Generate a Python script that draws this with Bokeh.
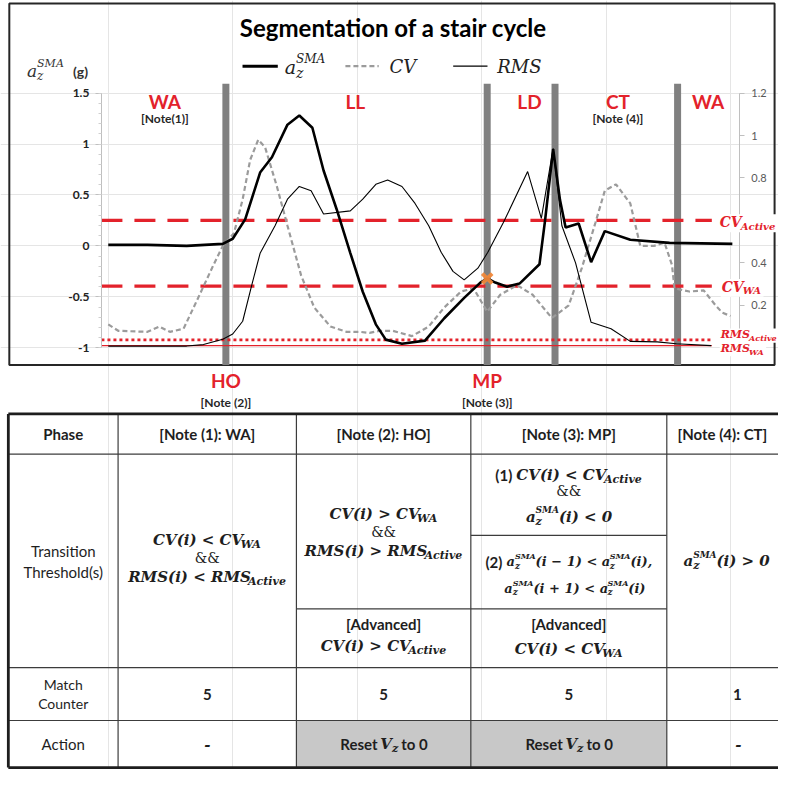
from bokeh.plotting import figure
from bokeh.models import Range1d, LinearAxis, ColumnDataSource, FixedTicker
from bokeh.core.properties import value
from bokeh.embed import file_html
from bokeh.resources import INLINE

# ---------------- data ----------------
AZ_T = [0.0, 6.3, 12.6, 18.4, 20.0, 22.0, 24.4, 26.3, 28.8, 30.7, 32.8, 34.6, 36.7, 38.9, 40.9,
        43.0, 44.6, 47.2, 50.9, 54.0, 57.2, 59.8, 60.9, 62.2, 64.1, 66.1, 69.3, 70.2, 71.5, 72.6,
        73.5, 75.6, 77.6, 79.8, 83.9, 90.2, 100.3]
AZ = [0.01, 0.01, 0.00, 0.02, 0.07, 0.26, 0.72, 0.87, 1.19, 1.28, 1.16, 0.74, 0.36, -0.07, -0.45,
      -0.77, -0.92, -0.96, -0.93, -0.71, -0.51, -0.36, -0.32, -0.36, -0.40, -0.37, -0.18, 0.25, 0.95, 0.45,
      0.18, 0.22, -0.16, 0.145, 0.06, 0.03, 0.02]
CV_T = [0.0, 1.6, 6.3, 8.2, 9.9, 12.1, 14.2, 16.9, 18.4, 20.2, 21.6, 22.8, 24.1, 25.2, 27.1,
        28.8, 31.0, 33.1, 35.7, 38.3, 40.5, 42.0, 43.6, 45.7, 48.8, 51.5, 54.0, 56.7, 58.7, 60.9,
        63.0, 65.7, 68.2, 71.3, 74.0, 76.1, 78.3, 79.8, 81.6, 83.9, 85.5, 87.7, 89.4, 90.6, 91.0,
        93.4, 95.7, 97.6, 98.7, 100.0]
CV = [0.11, 0.08, 0.075, 0.10, 0.075, 0.09, 0.22, 0.39, 0.48, 0.54, 0.70, 0.885, 0.98, 0.945, 0.76,
      0.575, 0.34, 0.19, 0.10, 0.075, 0.075, 0.07, 0.08, 0.08, 0.055, 0.10, 0.19, 0.265, 0.28, 0.17,
      0.25, 0.295, 0.25, 0.14, 0.20, 0.375, 0.59, 0.74, 0.77, 0.68, 0.48, 0.48, 0.495, 0.39, 0.28,
      0.265, 0.27, 0.20, 0.165, 0.15]
RMS_T = [0.0, 12.6, 15.3, 18.4, 20.0, 21.6, 23.1, 24.4, 26.8, 28.8, 30.7, 32.6, 34.6, 38.9, 40.9,
         43.0, 44.9, 47.2, 49.3, 51.5, 53.5, 55.4, 57.2, 59.4, 61.0, 63.5, 67.4, 69.6, 71.5, 72.9,
         75.1, 77.6, 80.8, 83.9, 88.2, 91.3, 96.9]
RMS = [0.008, 0.008, 0.015, 0.04, 0.065, 0.125, 0.30, 0.445, 0.575, 0.70, 0.76, 0.74, 0.63, 0.645, 0.70,
       0.77, 0.79, 0.76, 0.68, 0.575, 0.45, 0.36, 0.32, 0.375, 0.45, 0.59, 0.83, 0.61, 0.94, 0.575,
       0.40, 0.12, 0.09, 0.03, 0.028, 0.019, 0.01]

BOUNDARY_T = [18.9, 60.9, 71.8, 91.5]
PHASE_NAMES = ["WA", "LL", "LD", "CT", "WA"]
PHASE_T = [9.1, 39.7, 67.7, 81.9, 96.4]
PHASE_NOTES = ["[Note(1)]", "[Note (4)]"]
PHASE_NOTE_T = [9.1, 81.9]
EVENT_NAMES = ["HO", "MP"]
EVENT_T = [18.9, 60.9]
EVENT_NOTES = ["[Note (2)]", "[Note (3)]"]
MP_T = [60.9]
MP_AZ = [-0.32]

CV_ACTIVE = 0.60
CV_WA = 0.29
RMS_ACTIVE = 0.037
RMS_WA = 0.010
THRESH_END_T = 97.0

LEFT_TICKS = [-1, -0.5, 0, 0.5, 1, 1.5]
LEFT_TICK_LABELS = ["-1", "-0.5", "0", "0.5", "1", "1.5"]
RIGHT_TICKS = [0, 0.2, 0.4, 0.6, 0.8, 1.0, 1.2]
RIGHT_TICK_LABELS = ["", "0.2", "0.4", "", "0.8", "1", "1.2"]

TITLE = "Segmentation of a stair cycle"
LEGEND_LABELS = ["a_{z}^{SMA}", "CV", "RMS"]
Y_LABEL = "a_{z}^{SMA}"
Y_UNIT = "(g)"
THRESH_LABELS = ["CV_{Active}", "CV_{WA}", "RMS_{Active}", "RMS_{WA}"]

TABLE_HEADER = ["Phase", "[Note (1): WA]", "[Note (2): HO]", "[Note (3): MP]", "[Note (4): CT]"]
ROW_LABELS = [["Transition", "Threshold(s)"], ["Match", "Counter"], ["Action"]]
MATCH_COUNTER = ["5", "5", "5", "1"]
ACTION = ["-", "Reset |V_{z}| to 0", "Reset |V_{z}| to 0", "-"]
WA_RULE = ["CV(i) < CV_{WA}", "&&", "RMS(i) < RMS_{Active}"]
HO_RULE = ["CV(i) > CV_{WA}", "&&", "RMS(i) > RMS_{Active}"]
HO_ADV = ["[Advanced]", "CV(i) > CV_{Active}"]
MP_RULE1 = ["(1) |CV(i) < CV_{Active}", "&&", "a_{z}^{SMA}(i) < 0"]
MP_RULE2 = ["(2) |a_{z}^{SMA}(i − 1) < a_{z}^{SMA}(i),", "a_{z}^{SMA}(i + 1) < a_{z}^{SMA}(i)"]
MP_ADV = ["[Advanced]", "CV(i) < CV_{WA}"]
CT_RULE = "a_{z}^{SMA}(i) > 0"

# ---------------- styles / geometry ----------------
RED = "#e3222b"
INK = "#1e1e1e"
SERIF = "DejaVu Serif"
SANS = "Lato"

FIG_W, FIG_H = 778, 769
REF_X0, REF_X1 = 0, 794      # page area in reference pixels
REF_Y0, REF_Y1 = 0, 785
kx = FIG_W / (REF_X1 - REF_X0)
ky = FIG_H / (REF_Y1 - REF_Y0)

T0_PX, T_PX = 110.0, 6.35     # sample axis: ref px of t=0, px per sample
V0_PX, V_PX = 250.5, 104.0    # left axis: ref px of 0 g, px per g
R_PER_V = 0.48                 # right axis units per (left + 1)


def t_of(rx):
    return (rx - T0_PX) / T_PX


def v_of(ry):
    return (V0_PX - ry) / V_PX


X_RANGE = Range1d(t_of(REF_X0), t_of(REF_X1))
Y_RANGE = Range1d(v_of(REF_Y1), v_of(REF_Y0))
R_RANGE = Range1d((v_of(REF_Y1) + 1) * R_PER_V, (v_of(REF_Y0) + 1) * R_PER_V)

p = figure(width=FIG_W, height=FIG_H, x_range=X_RANGE, y_range=Y_RANGE,
           x_axis_location=None, y_axis_location=None, toolbar_location=None,
           output_backend="svg", min_border=0, outline_line_color=None,
           background_fill_color="white", border_fill_color="white")
p.extra_y_ranges = {"right": R_RANGE, "ty": Range1d(REF_Y1, REF_Y0)}
p.extra_x_ranges = {"tx": Range1d(REF_X0, REF_X1)}

CHART_TOP, CHART_BOT = 85, 372
Y_TOP, Y_BOT = v_of(CHART_TOP), v_of(CHART_BOT)

# axes
la = LinearAxis(fixed_location=t_of(103),
                ticker=FixedTicker(ticks=LEFT_TICKS,
                                   minor_ticks=[round(-1 + 0.1 * k, 1) for k in range(26)]),
                major_label_overrides=dict(zip(LEFT_TICKS, LEFT_TICK_LABELS)), bounds=(-1, 1.5),
                axis_line_color="#bfbfbf", major_tick_line_color="#bfbfbf",
                minor_tick_line_color="#d0d0d0", major_tick_in=0, major_tick_out=6,
                minor_tick_in=0, minor_tick_out=3, major_label_standoff=6,
                major_label_text_font=SANS, major_label_text_font_style="bold",
                major_label_text_font_size="12px", major_label_text_color="#222222")
p.add_layout(la, "left")
ra = LinearAxis(y_range_name="right", fixed_location=t_of(754),
                ticker=FixedTicker(ticks=RIGHT_TICKS, minor_ticks=[]),
                major_label_overrides=dict(zip(RIGHT_TICKS, RIGHT_TICK_LABELS)), bounds=(0, 1.2),
                axis_line_color="#bfbfbf", major_tick_line_color="#bfbfbf", major_tick_in=0,
                major_tick_out=5, minor_tick_line_color=None, major_label_standoff=7,
                major_label_text_font=SANS, major_label_text_font_size="11px",
                major_label_text_color="#595959")
p.add_layout(ra, "right")

# chart frame box
p.quad(left=[9], right=[790], top=[3], bottom=[CHART_BOT], x_range_name="tx", y_range_name="ty",
       fill_color=None, line_color="#262626", line_width=2)

# phase boundaries
p.segment(x0=BOUNDARY_T, y0=[Y_BOT] * len(BOUNDARY_T), x1=BOUNDARY_T, y1=[Y_TOP] * len(BOUNDARY_T),
          line_color="#808080", line_width=7)

# thresholds
X_START = t_of(103)
for lvl, kw in [(CV_ACTIVE, dict(line_width=3.2, line_dash="21 12")),
                (CV_WA, dict(line_width=3.2, line_dash="21 12")),
                (RMS_ACTIVE, dict(line_width=2.6, line_dash="3 3")),
                (RMS_WA, dict(line_width=1.2))]:
    p.line([X_START, THRESH_END_T], [lvl, lvl], y_range_name="right", line_color=RED, **kw)

# series
CV_COLOR = "#9b9b9b"
p.line(CV_T, CV, y_range_name="right", line_color=CV_COLOR, line_width=2.2, line_dash="5 3")
p.line(RMS_T, RMS, y_range_name="right", line_color="black", line_width=1.1)
p.line(AZ_T, AZ, line_color="black", line_width=2.6)
p.scatter(MP_T, MP_AZ, marker="x", size=14, line_width=3.8, line_color="#f0883a", line_alpha=0.95,
          level="annotation")

# legend lines (reference pixel coords)
p.line([247, 283], [67, 67], x_range_name="tx", y_range_name="ty", line_color="black", line_width=3)
p.line([352, 386], [67, 67], x_range_name="tx", y_range_name="ty", line_color=CV_COLOR,
       line_width=2.2, line_dash="5 3")
p.line([462, 497], [67, 67], x_range_name="tx", y_range_name="ty", line_color="black",
       line_width=1.1)

# phase / event labels
p.text(x=PHASE_T, y=[103] * len(PHASE_T), y_range_name="ty", text=PHASE_NAMES,
       text_font=value(SANS), text_font_style="bold", text_font_size="19px", text_color=RED,
       text_align="center", text_baseline="middle", level="overlay")
p.text(x=PHASE_NOTE_T, y=[120] * len(PHASE_NOTE_T), y_range_name="ty", text=PHASE_NOTES,
       text_font=value(SANS), text_font_style="bold", text_font_size="12px", text_color="#262626",
       text_align="center", text_baseline="middle", level="overlay")
p.text(x=EVENT_T, y=[388] * len(EVENT_T), y_range_name="ty", text=EVENT_NAMES,
       text_font=value(SANS), text_font_style="bold", text_font_size="19px", text_color=RED,
       text_align="center", text_baseline="middle", level="overlay")
p.text(x=EVENT_T, y=[410] * len(EVENT_T), y_range_name="ty", text=EVENT_NOTES,
       text_font=value(SANS), text_font_style="bold", text_font_size="12px", text_color="#262626",
       text_align="center", text_baseline="middle", level="overlay")

# ---------------- rich text helpers ----------------
W_SERIF_BI = {' ': 0.348, '(': 0.473, ')': 0.473, '<': 0.838, '>': 0.838, ',': 0.380, '−': 0.838,
              '+': 0.838, '0': 0.696, 'A': 0.776, 'C': 0.734, 'M': 1.094, 'R': 0.770, 'S': 0.721,
              'V': 0.774, 'W': 1.103, 'a': 0.646, 'c': 0.593, 'e': 0.640, 'i': 0.343, 't': 0.478,
              'v': 0.652, 'z': 0.582}
W_SERIF_I = {' ': 0.318, 'A': 0.722, 'C': 0.698, 'M': 0.995, 'R': 0.733, 'S': 0.685, 'V': 0.722,
             'a': 0.596, 'z': 0.525, 'W': 1.03, 'c': 0.55, 't': 0.40, 'i': 0.32, 'v': 0.56, 'e': 0.59}
W_SANS_B = {' ': 0.2, '(': 0.31, ')': 0.31, '0': 0.58, 'R': 0.62, 'e': 0.53, 's': 0.43, 't': 0.36,
            'o': 0.57, 'g': 0.52}
W_SANS = dict(W_SANS_B)
W_SERIF = {'&': 0.8}

FONTS = {"serifbi": (SERIF, "bold italic", W_SERIF_BI), "serifi": (SERIF, "italic", W_SERIF_I),
         "sansb": (SANS, "bold", W_SANS_B), "sans": (SANS, "normal", W_SANS),
         "serif": (SERIF, "normal", W_SERIF)}


def tw(s, size, table):
    tot = 0.0
    for ch in s:
        tot += table.get('0', 0.6) if ch.isdigit() else table.get(ch, 0.62)
    return tot * size


def parse(markup):
    toks, buf, i = [], "", 0
    while i < len(markup):
        c = markup[i]
        if c in "_^" and markup[i + 1:i + 2] == "{":
            j = markup.index("}", i)
            inner = markup[i + 2:j]
            had_buf = bool(buf)
            if buf:
                toks.append(["n", buf])
                buf = ""
            kind = "sub" if c == "_" else "sup"
            if (not had_buf) and toks and toks[-1][0] in ("sub", "sup") and toks[-1][0] != kind:
                prev = toks.pop()
                sub = inner if kind == "sub" else prev[1]
                sup = inner if kind == "sup" else prev[1]
                toks.append(["stack", sub, sup])
            else:
                toks.append([kind, inner])
            i = j + 1
        else:
            buf += c
            i += 1
    if buf:
        toks.append(["n", buf])
    return toks


def layout(runs):
    pieces, x = [], 0.0
    for markup, fk, size in runs:
        font, style, wt = FONTS[fk]
        sub_s, sup_s = round(size * 0.72), round(size * 0.62)
        sub_dy, sup_dy = size * 0.30, -size * 0.42

        def put(txt, s, dy, x=x):
            lead = len(txt) - len(txt.lstrip())
            if txt.strip():
                pieces.append((x + tw(txt[:lead], s, wt), dy, txt.strip(), s, font, style))
            return tw(txt, s, wt)

        for tok in parse(markup):
            if tok[0] == "n":
                x += put(tok[1], size, 0.0, x)
            elif tok[0] == "sub":
                x += put(tok[1], sub_s, sub_dy, x)
            elif tok[0] == "sup":
                x += put(tok[1], sup_s, sup_dy, x)
            else:
                w1 = put(tok[1], sub_s, sub_dy, x)
                w2 = put(tok[2], sup_s, sup_dy, x)
                x += max(w1, w2)
    return pieces, x


LEFT = dict(x=[], y=[], text=[], font=[], fstyle=[], fsize=[], tcolor=[])
CENTER = dict(x=[], y=[], text=[], font=[], fstyle=[], fsize=[], tcolor=[])
MASKS = dict(left=[], right=[], top=[], bottom=[])


def add(src, x, y, txt, size, font, style, color):
    src["x"].append(x)
    src["y"].append(y)
    src["text"].append(txt)
    src["font"].append(font)
    src["fstyle"].append(style)
    src["fsize"].append(f"{size}px")
    src["tcolor"].append(color)


def rich(cx, cy, runs, color=INK, align="center", mask=False):
    pieces, w = layout(runs)
    if align == "center" and len(pieces) == 1 and not mask:
        dx, dy, txt, size, font, style = pieces[0]
        add(CENTER, cx, cy + dy / ky, txt, size, font, style, color)
        return
    x0 = cx - (w / 2 if align == "center" else 0) / kx
    if mask:
        MASKS["left"].append(x0 - 1)
        MASKS["right"].append(x0 + w / kx + 2)
        MASKS["top"].append(cy - runs[0][2] * 0.55)
        MASKS["bottom"].append(cy + runs[0][2] * 0.75)
    for dx, dy, txt, size, font, style in pieces:
        add(LEFT, x0 + dx / kx, cy + dy / ky, txt, size, font, style, color)


# chart texts (reference pixel coords)
rich(401, 28, [(TITLE, "sansb", 24)], color="black")
rich(290, 68, [(LEGEND_LABELS[0], "serifi", 19)], color="#222222", align="left")
rich(397, 67, [(LEGEND_LABELS[1], "serifi", 18)], color="#222222", align="left")
rich(507, 67, [(LEGEND_LABELS[2], "serifi", 18)], color="#222222", align="left")
rich(27, 72, [(Y_LABEL, "serifi", 17)], color="#333333", align="left")
rich(74, 72, [(Y_UNIT, "sansb", 14)], color="#333333", align="left")
rich(734, 226, [(THRESH_LABELS[0], "serifbi", 14)], color=RED, align="left", mask=True)
rich(736, 292, [(THRESH_LABELS[1], "serifbi", 14)], color=RED, align="left", mask=True)
rich(735, 341, [(THRESH_LABELS[2], "serifbi", 11)], color=RED, align="left", mask=True)
rich(735, 355, [(THRESH_LABELS[3], "serifbi", 11)], color=RED, align="left", mask=True)

# ---------------- table ----------------
COL_EDGES = [8, 120, 302, 480, 680]
ROW_EDGES = [422, 463, 681, 735, 783]
SPLITS = [(302, 480, 621), (480, 680, 546), (480, 680, 621)]
TXR = dict(x_range_name="tx", y_range_name="ty")

p.quad(left=[COL_EDGES[2], COL_EDGES[3]], right=[COL_EDGES[3], COL_EDGES[4]],
       top=[ROW_EDGES[3]] * 2, bottom=[ROW_EDGES[4]] * 2, fill_color="#c8c8c8", line_color=None,
       **TXR)
hx0 = [COL_EDGES[0]] * 3 + [s[0] for s in SPLITS]
hx1 = [REF_X1] * 3 + [s[1] for s in SPLITS]
hy = ROW_EDGES[1:4] + [s[2] for s in SPLITS]
p.segment(x0=hx0, y0=hy, x1=hx1, y1=hy, line_color="#3c3c3c", line_width=1.2, **TXR)
p.segment(x0=COL_EDGES[1:], y0=[ROW_EDGES[0]] * 4, x1=COL_EDGES[1:], y1=[ROW_EDGES[-1]] * 4,
          line_color="#3c3c3c", line_width=1.2, **TXR)
p.segment(x0=[COL_EDGES[0], COL_EDGES[0], COL_EDGES[0]], y0=[ROW_EDGES[0], ROW_EDGES[-1], ROW_EDGES[0]],
          x1=[REF_X1, REF_X1, COL_EDGES[0]], y1=[ROW_EDGES[0], ROW_EDGES[-1], ROW_EDGES[-1]],
          line_color=INK, line_width=2.8, **TXR)


def formula_runs(line, size=15):
    if line == "&&":
        return [(line, "serif", 14)]
    if line.startswith("["):
        return [(line, "sansb", 15)]
    parts = line.split("|")
    runs = []
    for k, part in enumerate(parts):
        if len(parts) > 1 and k != 1:
            runs.append((part, "sansb", 15))
        else:
            runs.append((part, "serifbi", size))
    return runs


CX = [64, 211, 391, 580]
for k in range(4):
    rich(CX[k], 443, [(TABLE_HEADER[k], "sansb", 15)])
rich(691, 443, [(TABLE_HEADER[4], "sansb", 15)], align="left")
rich(64, 562, [(ROW_LABELS[0][0], "sans", 15)])
rich(64, 583, [(ROW_LABELS[0][1], "sans", 15)])
rich(64, 698, [(ROW_LABELS[1][0], "sans", 14)])
rich(64, 718, [(ROW_LABELS[1][1], "sans", 14)])
rich(64, 759, [(ROW_LABELS[2][0], "sans", 15)])
for line, yy in zip(WA_RULE, [551, 569, 588]):
    rich(211, yy, formula_runs(line))
for line, yy in zip(HO_RULE, [524, 543, 562]):
    rich(391, yy, formula_runs(line))
for line, yy in zip(HO_ADV, [636, 659]):
    rich(391, yy, formula_runs(line))
for line, yy in zip(MP_RULE1, [484, 501, 527]):
    rich(580, yy, formula_runs(line))
rich(580, 573, formula_runs(MP_RULE2[0], 13))
rich(586, 600, formula_runs(MP_RULE2[1], 13))
for line, yy in zip(MP_ADV, [636, 662]):
    rich(580, yy, formula_runs(line))
rich(697, 572, formula_runs(CT_RULE), align="left")
for k, val in enumerate(MATCH_COUNTER):
    rich(CX[k + 1] if k < 3 else 752, 708, [(val, "sansb", 15)])
for k, act in enumerate(ACTION):
    rich(CX[k + 1] if k < 3 else 753, 759, formula_runs(act))

# masks behind the right-hand threshold labels (cover the right axis line)
p.quad(source=ColumnDataSource(MASKS), left="left", right="right", top="top", bottom="bottom",
       fill_color="white", line_color=None, level="annotation", **TXR)

p.text(x="x", y="y", text="text", text_font="font", text_font_style="fstyle",
       text_font_size="fsize", text_color="tcolor", text_align="left", text_baseline="middle",
       source=ColumnDataSource(LEFT), level="overlay", **TXR)
p.text(x="x", y="y", text="text", text_font="font", text_font_style="fstyle",
       text_font_size="fsize", text_color="tcolor", text_align="center", text_baseline="middle",
       source=ColumnDataSource(CENTER), level="overlay", **TXR)

open("out.html", "w").write(file_html(p, INLINE, title="Segmentation of a stair cycle"))
